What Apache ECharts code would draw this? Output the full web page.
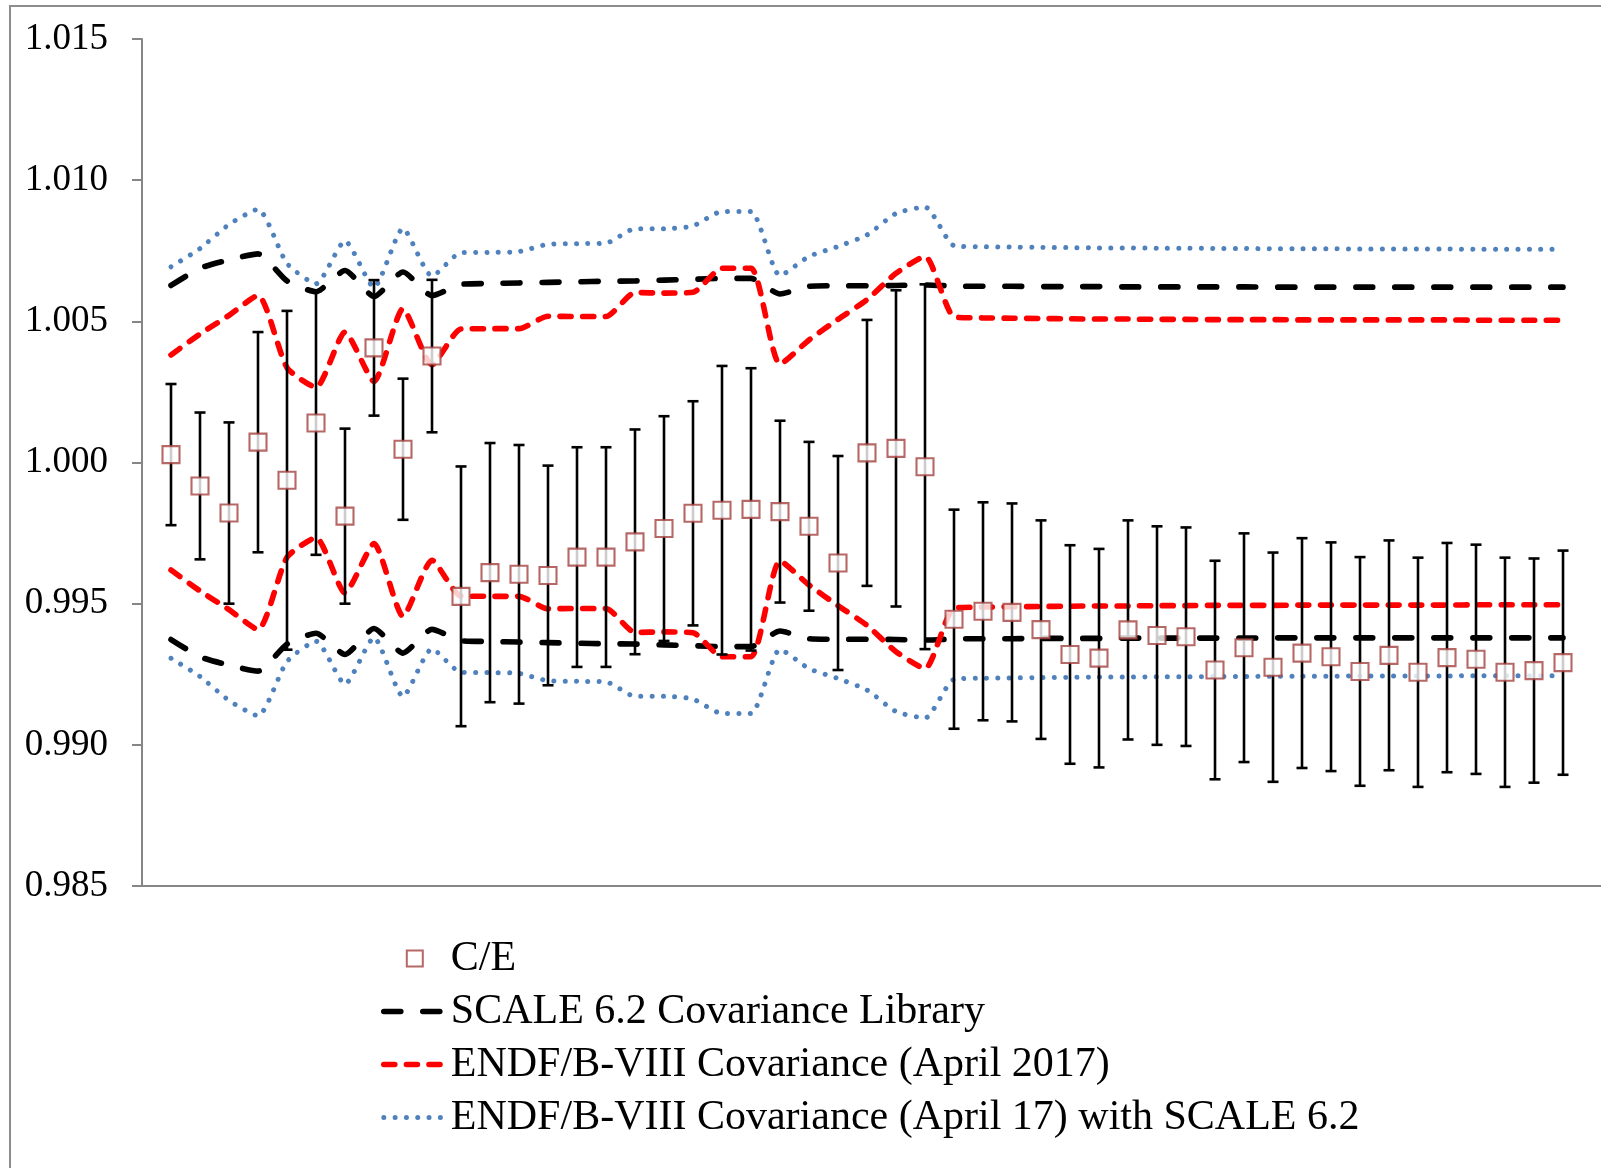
<!DOCTYPE html>
<html>
<head>
<meta charset="utf-8">
<title>C/E with covariance uncertainty bands</title>
<script src="https://cdn.jsdelivr.net/npm/echarts@6/dist/echarts.min.js"></script>
<style>
  html, body { margin: 0; padding: 0; background: #ffffff; }
  #chart { width: 1601px; height: 1168px; }
</style>
</head>
<body>
<div id="chart"></div>
<script>
// Benchmark case numbers (x position of each experiment)
const caseNo = [1, 2, 3, 4, 5, 6, 7, 8, 9, 10, 11, 12, 13, 14, 15, 16, 17, 18, 19, 20,
  21, 22, 23, 24, 25, 26, 27, 28, 29, 30, 31, 32, 33, 34, 35, 36, 37, 38, 39, 40,
  41, 42, 43, 44, 45, 46, 47, 48, 49];

// Calculated-to-experiment ratio for each case
const ceValue = [1.00028, 0.99917, 0.99821, 1.00072, 0.99937, 1.00140, 0.99810, 1.00406, 1.00047, 1.00377,
  0.99526, 0.99610, 0.99604, 0.99600, 0.99665, 0.99665, 0.99719, 0.99766, 0.99820, 0.99831,
  0.99834, 0.99826, 0.99774, 0.99644, 1.00034, 1.00050, 0.99985, 0.99445, 0.99473, 0.99469,
  0.99408, 0.99320, 0.99307, 0.99407, 0.99387, 0.99383, 0.99265, 0.99344, 0.99275, 0.99325,
  0.99312, 0.99260, 0.99317, 0.99257, 0.99309, 0.99303, 0.99257, 0.99263, 0.99291];

// Experimental 1-sigma uncertainty on C/E
const ceUncert = [0.00250, 0.00260, 0.00321, 0.00390, 0.00600, 0.00467, 0.00310, 0.00240, 0.00250, 0.00270,
  0.00460, 0.00459, 0.00458, 0.00389, 0.00389, 0.00389, 0.00398, 0.00398, 0.00397, 0.00511,
  0.00500, 0.00322, 0.00299, 0.00379, 0.00471, 0.00560, 0.00646, 0.00388, 0.00386, 0.00386,
  0.00387, 0.00387, 0.00387, 0.00388, 0.00387, 0.00387, 0.00387, 0.00405, 0.00406, 0.00407,
  0.00405, 0.00405, 0.00407, 0.00406, 0.00406, 0.00406, 0.00406, 0.00397, 0.00397];

// Relative 1-sigma nuclear-data uncertainty for each covariance library (bands drawn at 1 +/- sigma)
const sigmaScale62 = [0.00627, 0.00688, 0.00718, 0.00739, 0.00643, 0.00605, 0.00680, 0.00588, 0.00675, 0.00591,
  0.00631, 0.00634, 0.00636, 0.00638, 0.00640, 0.00642, 0.00643, 0.00646, 0.00649, 0.00652,
  0.00652, 0.00597, 0.00624, 0.00626, 0.00626, 0.00627, 0.00629, 0.00625, 0.00624, 0.00624,
  0.00623, 0.00623, 0.00623, 0.00622, 0.00622, 0.00622, 0.00622, 0.00622, 0.00621, 0.00621,
  0.00621, 0.00621, 0.00621, 0.00621, 0.00621, 0.00621, 0.00621, 0.00621, 0.00621];

const sigmaEndf8 = [0.00381, 0.00455, 0.00521, 0.00592, 0.00336, 0.00266, 0.00462, 0.00287, 0.00545, 0.00346,
  0.00473, 0.00474, 0.00474, 0.00518, 0.00517, 0.00517, 0.00602, 0.00600, 0.00603, 0.00688,
  0.00688, 0.00348, 0.00434, 0.00507, 0.00577, 0.00670, 0.00730, 0.00516, 0.00512, 0.00511,
  0.00510, 0.00509, 0.00508, 0.00508, 0.00507, 0.00507, 0.00506, 0.00506, 0.00506, 0.00505,
  0.00505, 0.00505, 0.00505, 0.00505, 0.00505, 0.00504, 0.00504, 0.00504, 0.00504];

const sigmaEndf8Scale = [0.00693, 0.00758, 0.00843, 0.00897, 0.00705, 0.00633, 0.00785, 0.00620, 0.00829, 0.00660,
  0.00743, 0.00744, 0.00747, 0.00773, 0.00775, 0.00777, 0.00828, 0.00828, 0.00838, 0.00889,
  0.00889, 0.00662, 0.00730, 0.00765, 0.00806, 0.00882, 0.00905, 0.00768, 0.00764, 0.00763,
  0.00762, 0.00761, 0.00760, 0.00760, 0.00759, 0.00759, 0.00758, 0.00758, 0.00757, 0.00757,
  0.00757, 0.00756, 0.00756, 0.00756, 0.00756, 0.00755, 0.00755, 0.00755, 0.00755];

// Y axis ticks
const yTicks = { min: 0.985, max: 1.015, step: 0.005 };

const NAME_CE = 'C/E';
const NAME_SCALE = 'SCALE 6.2 Covariance Library';
const NAME_ENDF = 'ENDF/B-VIII Covariance (April 2017)';
const NAME_COMB = 'ENDF/B-VIII Covariance (April 17) with SCALE 6.2';

const FONT = "'Liberation Serif', 'Times New Roman', serif";

function band(sigma, sign) {
  return caseNo.map((x, i) => [x, 1 + sign * sigma[i]]);
}

function bandSeries(name, sigma, lineStyle) {
  return [1, -1].map(sign => ({
    type: 'line',
    name: name,
    data: band(sigma, sign),
    symbol: 'none',
    smooth: 0.2,
    lineStyle: lineStyle,
    itemStyle: { color: lineStyle.color },
    z: 2,
    silent: true
  }));
}

const blackStyle = { color: '#000000', width: 5.6, type: [17, 22], cap: 'round', join: 'round' };
const redStyle = { color: '#ff0000', width: 5.6, type: [11, 11.6], cap: 'round', join: 'round' };
const blueStyle = { color: '#4f81bd', width: 5, type: [0.01, 11.3], cap: 'round', join: 'round' };

const errorBars = {
  type: 'custom',
  name: 'uncertainty',
  data: caseNo.map((x, i) => [x, ceValue[i] - ceUncert[i], ceValue[i] + ceUncert[i]]),
  encode: { x: 0, y: [1, 2] },
  renderItem: function (params, api) {
    const lo = api.coord([api.value(0), api.value(1)]);
    const hi = api.coord([api.value(0), api.value(2)]);
    const cap = 5.5;
    const st = { stroke: '#000000', lineWidth: 2.6 };
    return {
      type: 'group',
      children: [
        { type: 'line', shape: { x1: lo[0], y1: lo[1], x2: hi[0], y2: hi[1] }, style: st },
        { type: 'line', shape: { x1: lo[0] - cap, y1: lo[1], x2: lo[0] + cap, y2: lo[1] }, style: st },
        { type: 'line', shape: { x1: hi[0] - cap, y1: hi[1], x2: hi[0] + cap, y2: hi[1] }, style: st }
      ]
    };
  },
  z: 3,
  silent: true
};

const squarePath = 'path://M0,0L10,0L10,10L0,10Z';
const markerStyle = { color: '#ffffff', borderColor: '#a3423e', borderWidth: 2.1 };

const ceSeries = {
  type: 'scatter',
  name: NAME_CE,
  data: caseNo.map((x, i) => [x, ceValue[i]]),
  symbol: squarePath,
  symbolSize: 17,
  itemStyle: markerStyle,
  z: 4,
  silent: true
};

// legend swatches: the line pattern only, no point symbol
const hiddenSymbol = { color: 'rgba(0,0,0,0)', borderWidth: 0, opacity: 0 };

const chart = echarts.init(document.getElementById('chart'), null, { renderer: 'canvas' });

chart.setOption({
  animation: false,
  backgroundColor: '#ffffff',
  textStyle: { fontFamily: FONT },
  graphic: [{
    type: 'rect',
    shape: { x: 10, y: 6, width: 1700, height: 1300 },
    style: { fill: 'none', stroke: '#8d8d8d', lineWidth: 2 },
    z: -10,
    silent: true
  }],
  grid: { left: 142, top: 39, width: 1459, height: 847, containLabel: false },
  xAxis: {
    type: 'value',
    min: 0,
    max: 50.31,
    axisLine: { show: true, onZero: false, lineStyle: { color: '#868686', width: 2 } },
    axisTick: { show: false },
    axisLabel: { show: false },
    splitLine: { show: false }
  },
  yAxis: {
    type: 'value',
    min: yTicks.min,
    max: yTicks.max,
    interval: yTicks.step,
    axisLine: { show: true, lineStyle: { color: '#868686', width: 2 } },
    axisTick: { show: true, length: 10, lineStyle: { color: '#868686', width: 2 } },
    splitLine: { show: false },
    axisLabel: {
      formatter: v => v.toFixed(3),
      fontFamily: FONT,
      fontSize: 37,
      color: '#000000',
      margin: 34
    }
  },
  legend: {
    orient: 'vertical',
    left: 376,
    top: 927,
    itemWidth: 62,
    itemHeight: 16,
    itemGap: 0,
    selectedMode: false,
    textStyle: { fontFamily: FONT, fontSize: 42, color: '#000000', lineHeight: 53 },
    data: [
      { name: NAME_CE, icon: squarePath, itemStyle: { color: '#ffffff', borderColor: '#a3423e', borderWidth: 2 } },
      { name: NAME_SCALE, itemStyle: hiddenSymbol, lineStyle: blackStyle },
      { name: NAME_ENDF, itemStyle: hiddenSymbol, lineStyle: redStyle },
      { name: NAME_COMB, itemStyle: hiddenSymbol, lineStyle: blueStyle }
    ]
  },
  series: [
    ...bandSeries(NAME_COMB, sigmaEndf8Scale, blueStyle),
    ...bandSeries(NAME_SCALE, sigmaScale62, blackStyle),
    ...bandSeries(NAME_ENDF, sigmaEndf8, redStyle),
    errorBars,
    ceSeries
  ]
});
</script>
</body>
</html>
